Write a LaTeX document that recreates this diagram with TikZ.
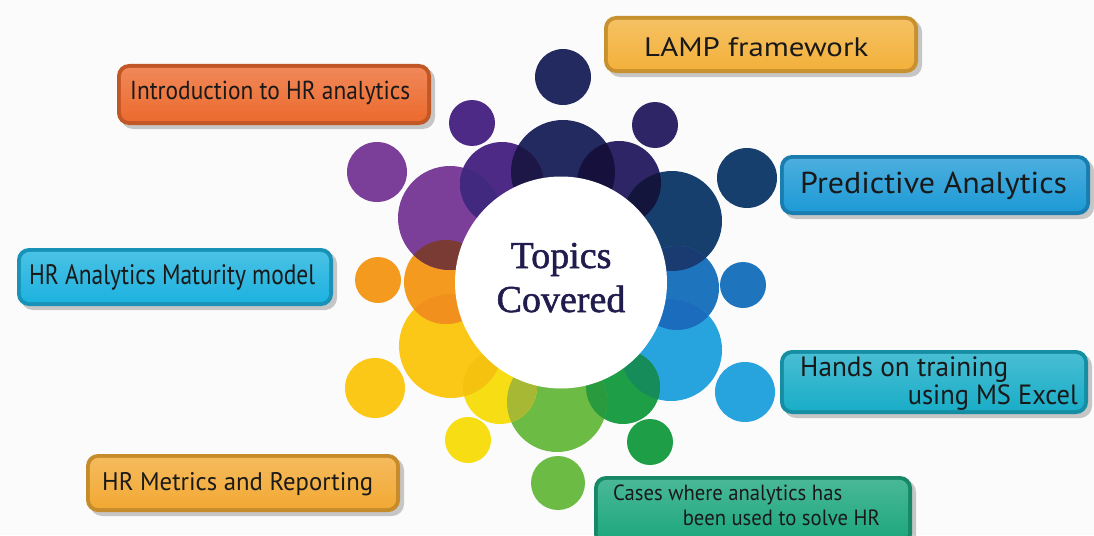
\documentclass[tikz,border=0pt]{standalone}
\usepackage{fontspec}
\setmainfont{Liberation Serif}
\newfontfamily\boxfont{PT Sans}
\newfontfamily\titlefont[RawFeature={embolden=1.4}]{Liberation Serif}
\usetikzlibrary{shadows}
\definecolor{bg}{HTML}{FBFBFB}
\definecolor{cNavy}{HTML}{232A5F}
\definecolor{cIndigo}{HTML}{2D2565}
\definecolor{cNavyBlue}{HTML}{173F6D}
\definecolor{cBlue}{HTML}{1F74BE}
\definecolor{cLBlue}{HTML}{27A3DE}
\definecolor{cGreen}{HTML}{1E9E47}
\definecolor{cYGreen}{HTML}{6CBB45}
\definecolor{cYellow}{HTML}{F7DD13}
\definecolor{cGold}{HTML}{FBC817}
\definecolor{cOrange}{HTML}{F49B1F}
\definecolor{cPurple}{HTML}{7B3F9A}
\definecolor{cViolet}{HTML}{4D2A85}
% overlap colours
\definecolor{oA}{HTML}{1D1748}
\definecolor{oB}{HTML}{15113C}
\definecolor{oC}{HTML}{13153D}
\definecolor{oD}{HTML}{1A3B72}
\definecolor{oE}{HTML}{1B6CBC}
\definecolor{oF}{HTML}{168C5A}
\definecolor{oG}{HTML}{2A9A3F}
\definecolor{oH}{HTML}{A6B834}
\definecolor{oI}{HTML}{F5C20F}
\definecolor{oJ}{HTML}{F2901E}
\definecolor{oK}{HTML}{7A3B35}
\definecolor{oL}{HTML}{40297F}
\definecolor{titlecol}{HTML}{211C4E}
\definecolor{bIntro}{HTML}{EC6A2E}
\definecolor{bLamp}{HTML}{F3B13B}
\definecolor{bPred}{HTML}{1E9AD6}
\definecolor{bMat}{HTML}{1DB2DF}
\definecolor{bHands}{HTML}{1AADC8}
\definecolor{bMetrics}{HTML}{F2A934}
\definecolor{bCases}{HTML}{1BA67C}
\tikzset{
  dot/.style={circle, inner sep=0pt, draw=none, fill=#1},
  tbox/.style={rounded corners=12pt, inner sep=0pt, fill=#1!82!black,
    drop shadow={shadow xshift=4pt, shadow yshift=-4pt, opacity=0.3, fill=black!70}},
  tinner/.style={rounded corners=9pt, top color=#1!80!white, bottom color=#1},
  btext/.style={inner sep=0pt, text=black!90, font=\boxfont},
  title/.style={inner sep=0pt, text=titlecol, font=\titlefont\fontsize{38}{44}\selectfont},
}
\newcommand\lensfill[5]{\begin{scope}\clip (#1.center) circle[radius=#2pt];
  \fill[#5] (#3.center) circle[radius=#4pt];\end{scope}}
\begin{document}
\begin{tikzpicture}[x=1pt,y=-1pt]
\useasboundingbox (0,0) rectangle (1094,535);
\fill[bg] (0,0) rectangle (1094,535);

% outer ring
\node[dot=cNavy,     minimum size=56pt] (o1)  at (563,77)  {};
\node[dot=cIndigo,   minimum size=46pt] (o2)  at (655,125) {};
\node[dot=cNavyBlue, minimum size=60pt] (o3)  at (747,178) {};
\node[dot=cBlue,     minimum size=46pt] (o4)  at (743,285) {};
\node[dot=cLBlue,    minimum size=60pt] (o5)  at (745,392) {};
\node[dot=cGreen,    minimum size=46pt] (o6)  at (650,442) {};
\node[dot=cYGreen,   minimum size=54pt] (o7)  at (558,483) {};
\node[dot=cYellow,   minimum size=46pt] (o8)  at (468,440) {};
\node[dot=cGold,     minimum size=60pt] (o9)  at (375,388) {};
\node[dot=cOrange,   minimum size=46pt] (o10) at (378,280) {};
\node[dot=cPurple,   minimum size=60pt] (o11) at (377,172) {};
\node[dot=cViolet,   minimum size=46pt] (o12) at (472,123) {};
% inner ring
\node[dot=cNavy,     minimum size=104pt] (r1)  at (563,172) {};
\node[dot=cIndigo,   minimum size=84pt]  (r2)  at (619,183) {};
\node[dot=cNavyBlue, minimum size=100pt] (r3)  at (672,221) {};
\node[dot=cBlue,     minimum size=84pt]  (r4)  at (677,288) {};
\node[dot=cLBlue,    minimum size=102pt] (r5)  at (671,350) {};
\node[dot=cGreen,    minimum size=74pt]  (r6)  at (623,387) {};
\node[dot=cYGreen,   minimum size=100pt] (r7)  at (557,402) {};
\node[dot=cYellow,   minimum size=74pt]  (r8)  at (500,387) {};
\node[dot=cGold,     minimum size=104pt] (r9)  at (451,346) {};
\node[dot=cOrange,   minimum size=84pt]  (r10) at (446,282) {};
\node[dot=cPurple,   minimum size=104pt] (r11) at (450,218) {};
\node[dot=cViolet,   minimum size=84pt]  (r12) at (502,184) {};
% overlaps
\lensfill{r12}{42}{r1}{52}{oA}
\lensfill{r1}{52}{r2}{42}{oB}
\lensfill{r2}{42}{r3}{50}{oC}
\lensfill{r3}{50}{r4}{42}{oD}
\lensfill{r4}{42}{r5}{51}{oE}
\lensfill{r5}{51}{r6}{37}{oF}
\lensfill{r6}{37}{r7}{50}{oG}
\lensfill{r7}{50}{r8}{37}{oH}
\lensfill{r8}{37}{r9}{52}{oI}
\lensfill{r9}{52}{r10}{42}{oJ}
\lensfill{r10}{42}{r11}{52}{oK}
\lensfill{r11}{52}{r12}{42}{oL}

% centre
\node[dot=white, minimum size=212pt] (centre) at (561,282.5) {};
\node[title, anchor=base] (topics) at (561,268) {Topics};
\node[title, anchor=base] (covered) at (561,312) {Covered};

% boxes
\node[tbox=bIntro, minimum width=314pt, minimum height=61pt] (intro) at (274,94.5) {};
\shade[tinner=bIntro] ([shift={(4,4)}]intro.north west) rectangle ([shift={(-4,-4)}]intro.south east);
\node[btext, anchor=base west] (introtxt) at (130,99.5) {\resizebox{280pt}{18.4pt}{Introduction to HR analytics}};

\node[tbox=bLamp, minimum width=314pt, minimum height=57pt] (lamp) at (761,44.5) {};
\shade[tinner=bLamp] ([shift={(4,4)}]lamp.north west) rectangle ([shift={(-4,-4)}]lamp.south east);
\node[btext, anchor=base west] (lamptxt) at (644,57) {\resizebox{224pt}{19pt}{LAMP framework}};

\node[tbox=bPred, minimum width=310pt, minimum height=60pt] (pred) at (935,185) {};
\shade[tinner=bPred] ([shift={(4,4)}]pred.north west) rectangle ([shift={(-4,-4)}]pred.south east);
\node[btext, anchor=base west] (predtxt) at (800,193.5) {\resizebox{267pt}{21.5pt}{Predictive Analytics}};

\node[tbox=bMat, minimum width=316pt, minimum height=58pt] (mat) at (175,277) {};
\shade[tinner=bMat] ([shift={(4,4)}]mat.north west) rectangle ([shift={(-4,-4)}]mat.south east);
\node[btext, anchor=base west] (mattxt) at (29,284.5) {\resizebox{286pt}{20pt}{HR Analytics Maturity model}};

\node[tbox=bHands, minimum width=308pt, minimum height=64pt] (hands) at (934,382) {};
\shade[tinner=bHands] ([shift={(4,4)}]hands.north west) rectangle ([shift={(-4,-4)}]hands.south east);
\node[btext, anchor=base west] (handstxtA) at (800,376) {\resizebox{208pt}{19.8pt}{Hands on training}};
\node[btext, anchor=base east] (handstxtB) at (1078,404) {\resizebox{170pt}{19.8pt}{using MS Excel}};

\node[tbox=bMetrics, minimum width=314pt, minimum height=58pt] (metrics) at (243,483) {};
\shade[tinner=bMetrics] ([shift={(4,4)}]metrics.north west) rectangle ([shift={(-4,-4)}]metrics.south east);
\node[btext, anchor=base west] (metricstxt) at (102,490) {\resizebox{271pt}{18pt}{HR Metrics and Reporting}};

\node[tbox=bCases, minimum width=318pt, minimum height=70pt] (cases) at (753,511) {};
\shade[tinner=bCases] ([shift={(4,4)}]cases.north west) rectangle ([shift={(-4,-4)}]cases.south east);
\node[btext, anchor=base west] (casestxtA) at (613,500) {\resizebox{229pt}{15.6pt}{Cases where analytics has}};
\node[btext, anchor=base east] (casestxtB) at (880,525) {\resizebox{197pt}{15.6pt}{been used to solve HR}};
\end{tikzpicture}
\end{document}
